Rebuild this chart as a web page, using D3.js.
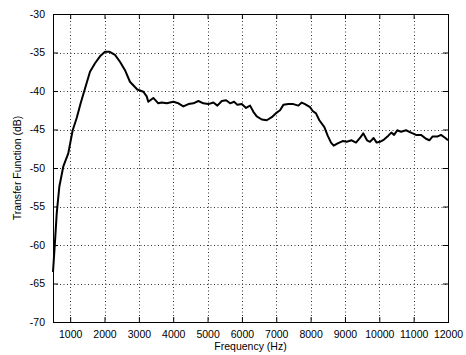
<!DOCTYPE html>
<html>
<head>
<meta charset="utf-8">
<script src="https://cdn.jsdelivr.net/npm/d3@7/dist/d3.min.js"></script>
<style>
  html, body { margin: 0; padding: 0; background: #fff; }
  svg { display: block; }
  text { font-family: "Liberation Sans", Arial, sans-serif; fill: #000; }
</style>
</head>
<body>
<svg id="chart" width="466" height="355"></svg>
<script>
// Measured transfer function of the system, frequency in Hz vs. level in dB
const frequency = [
  500, 560, 610, 685, 800, 945, 1073, 1190, 1305, 1430, 1577, 1723, 1868, 2014,
  2140, 2305, 2450, 2596, 2740, 2954, 3130, 3228, 3274, 3420, 3566, 3665, 3810,
  4005, 4150, 4296, 4442, 4587, 4733, 4878, 5024, 5170, 5286, 5414, 5539, 5656,
  5772, 5868, 5996, 6121, 6238, 6334, 6432, 6578, 6723, 6869, 7014, 7110, 7207,
  7353, 7498, 7644, 7741, 7837, 7983, 8061, 8157, 8254, 8400, 8497, 8594, 8672,
  8788, 8933, 9050, 9195, 9321, 9437, 9534, 9642, 9729, 9834, 9923, 10020,
  10137, 10263, 10350, 10430, 10524, 10632, 10777, 10923, 11068, 11214, 11360,
  11457, 11554, 11700, 11796, 11923, 12000
];
const transferDb = [
  -63.5, -59.4, -55.8, -52.4, -49.8, -48.1, -45.1, -43.5, -41.6, -39.7, -37.5, -36.4, -35.5, -34.9,
  -34.9, -35.3, -36.2, -37.3, -38.8, -39.8, -40.1, -40.7, -41.4, -40.9, -41.6, -41.5, -41.6,
  -41.4, -41.6, -42.0, -41.7, -41.6, -41.3, -41.6, -41.7, -41.5, -41.9, -41.3, -41.2, -41.6,
  -41.4, -41.8, -41.7, -42.2, -41.9, -42.7, -43.3, -43.7, -43.8, -43.4, -42.8, -42.5, -41.8,
  -41.7, -41.7, -41.9, -41.5, -41.7, -42.1, -42.6, -42.9, -43.8, -44.7, -45.8, -46.7, -47.1,
  -46.8, -46.5, -46.6, -46.4, -46.7, -46.1, -45.5, -46.4, -46.6, -46.1, -46.7, -46.6,
  -46.3, -45.8, -45.4, -45.7, -45.1, -45.3, -45.1, -45.4, -45.7, -45.7, -46.2,
  -46.4, -45.9, -45.9, -45.7, -46.1, -46.4
];

const xTicks = [1000, 2000, 3000, 4000, 5000, 6000, 7000, 8000, 9000, 10000, 11000, 12000];
const yTicks = [-70, -65, -60, -55, -50, -45, -40, -35, -30];
const xDomain = [500, 12000];
const yDomain = [-70, -30];

const svg = d3.select("#chart");
const margin = { top: 14, right: 18, bottom: 33, left: 53 };
const W = +svg.attr("width"), H = +svg.attr("height");
const w = W - margin.left - margin.right;
const h = H - margin.top - margin.bottom;

const g = svg.append("g").attr("transform", `translate(${margin.left},${margin.top})`);

const x = d3.scaleLinear().domain(xDomain).range([0, w]);
const y = d3.scaleLinear().domain(yDomain).range([h, 0]);

const fmt = d => String(d);
const fontSize = "10.5px";

// dotted grid
const grid = g.append("g").attr("class", "grid");
grid.selectAll("line.gx").data(xTicks.filter(t => t < xDomain[1])).join("line")
  .attr("x1", d => Math.round(x(d)) + 0.5).attr("x2", d => Math.round(x(d)) + 0.5)
  .attr("y1", 0).attr("y2", h);
grid.selectAll("line.gy").data(yTicks.filter(t => t > yDomain[0] && t < yDomain[1])).join("line")
  .attr("y1", d => Math.round(y(d)) + 0.5).attr("y2", d => Math.round(y(d)) + 0.5)
  .attr("x1", 0).attr("x2", w);
grid.selectAll("line")
  .attr("stroke", "#333")
  .attr("stroke-width", 1)
  .attr("stroke-dasharray", "1,2.5");

// curve
const line = d3.line().x((d, i) => x(frequency[i])).y(d => y(d));
g.append("path")
  .datum(transferDb)
  .attr("fill", "none")
  .attr("stroke", "#000")
  .attr("stroke-width", 2)
  .attr("stroke-linejoin", "round")
  .attr("d", line);

// axes with inward ticks on all four sides
const tickLen = 5;
const styleAxis = sel => {
  sel.select(".domain").remove();
  sel.selectAll(".tick line").attr("stroke", "#000");
  sel.selectAll(".tick text")
    .style("font-family", '"Liberation Sans", Arial, sans-serif')
    .style("font-size", fontSize)
    .attr("fill", "#000");
};

g.append("g").attr("transform", `translate(0,${h})`)
  .call(d3.axisBottom(x).tickValues(xTicks).tickFormat(fmt).tickSize(-tickLen).tickPadding(9))
  .call(styleAxis);
g.append("g")
  .call(d3.axisTop(x).tickValues(xTicks).tickFormat("").tickSize(-tickLen))
  .call(styleAxis);
g.append("g")
  .call(d3.axisLeft(y).tickValues(yTicks).tickFormat(fmt).tickSize(-tickLen).tickPadding(8))
  .call(styleAxis);
g.append("g").attr("transform", `translate(${w},0)`)
  .call(d3.axisRight(y).tickValues(yTicks).tickFormat("").tickSize(-tickLen))
  .call(styleAxis);

// box
g.append("rect")
  .attr("x", 0.5).attr("y", 0.5)
  .attr("width", w).attr("height", h)
  .attr("fill", "none")
  .attr("stroke", "#000")
  .attr("stroke-width", 1);

// axis titles
svg.append("text")
  .attr("x", margin.left + w / 2)
  .attr("y", H - 5)
  .attr("text-anchor", "middle")
  .style("font-size", fontSize)
  .text("Frequency (Hz)");

svg.append("text")
  .attr("transform", `translate(21,${margin.top + h / 2}) rotate(-90)`)
  .attr("text-anchor", "middle")
  .style("font-size", fontSize)
  .text("Transfer Function (dB)");
</script>
</body>
</html>
